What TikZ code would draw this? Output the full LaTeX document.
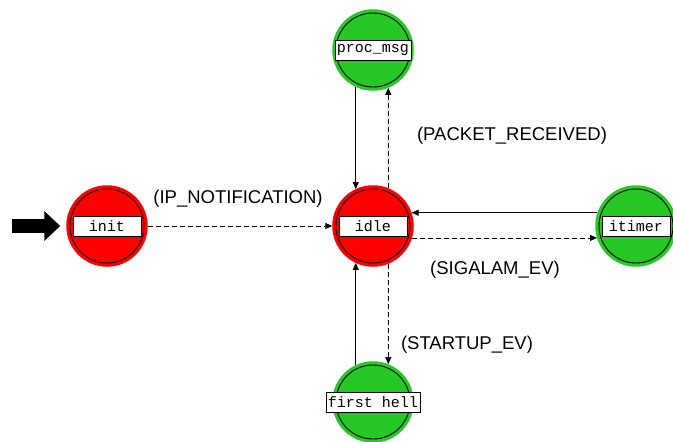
\documentclass[tikz,border=0pt]{standalone}
\usepackage{fontspec}
\setmainfont{Liberation Sans}
\newfontfamily\lblfont{Liberation Mono}
\usetikzlibrary{arrows.meta}
\definecolor{stred}{RGB}{255,0,0}
\definecolor{stgreen}{RGB}{38,200,38}
\tikzset{
  state/.style={circle, inner sep=0pt, minimum size=80pt, fill=#1, draw=#1, line width=1.5pt},
  ring/.style={draw=black, line width=0.9pt},
  lbl/.style={draw=black, fill=white, line width=0.8pt, minimum width=68pt, minimum height=20pt,
    inner xsep=2pt, inner ysep=0pt, font=\lblfont\fontsize{15}{15}\selectfont},
  evlabel/.style={font=\fontsize{18.5}{18.5}\selectfont, inner sep=0pt},
  tip/.style={-{Triangle[length=7pt,width=6pt]}},
  solidedge/.style={tip, line width=0.8pt},
  dashedge/.style={tip, line width=0.8pt, dash pattern=on 5pt off 3pt},
}
\begin{document}
\begin{tikzpicture}[x=1pt,y=-1pt]
\useasboundingbox[fill=white] (0,0) rectangle (673,442);
% states
\node[state=stred]   (init)   at (107,226) {};
\node[state=stred]   (idle)   at (373,226) {};
\node[state=stgreen] (proc)   at (373,50)  {};
\node[state=stgreen] (itimer) at (636,226) {};
\node[state=stgreen] (hell)   at (373,402) {};
\foreach \n in {init,idle,proc,itimer,hell}{
  \draw[ring] (\n) circle[radius=37];
}
% label boxes
\node[lbl] (initlbl)   at (init)   {init};
\node[lbl] (idlelbl)   at (idle)   {idle};
\node[lbl] (proclbl)   at (proc)   {proc\_msg};
\node[lbl] (itimerlbl) at (itimer) {itimer};
\node[lbl] (helllbl)   at (hell)   {first hell};
% initial arrow
\coordinate (start) at (12,226);
\draw[line width=14pt, -{Triangle[length=16pt,width=29pt]}, shorten >=6pt] (start) -- (init.west);
% transitions
\draw[solidedge] (proc.-115) -- (idle.115);
\draw[dashedge]  (idle.68)   -- (proc.-68);
\draw[dashedge]  (init.east) -- (idle.west);
\draw[solidedge] (itimer.161) -- (idle.19);
\draw[dashedge]  (idle.-17)  -- (itimer.-163);
\draw[solidedge] (hell.115)  -- (idle.-115);
\draw[dashedge]  (idle.-68)  -- (hell.68);
% event labels
\node[evlabel] (lip)   at (238,199) {(IP\_NOTIFICATION)};
\node[evlabel] (lpkt)  at (512,136) {(PACKET\_RECEIVED)};
\node[evlabel] (lsig)  at (495,270) {(SIGALAM\_EV)};
\node[evlabel] (lstart) at (467,345) {(STARTUP\_EV)};
\end{tikzpicture}
\end{document}
